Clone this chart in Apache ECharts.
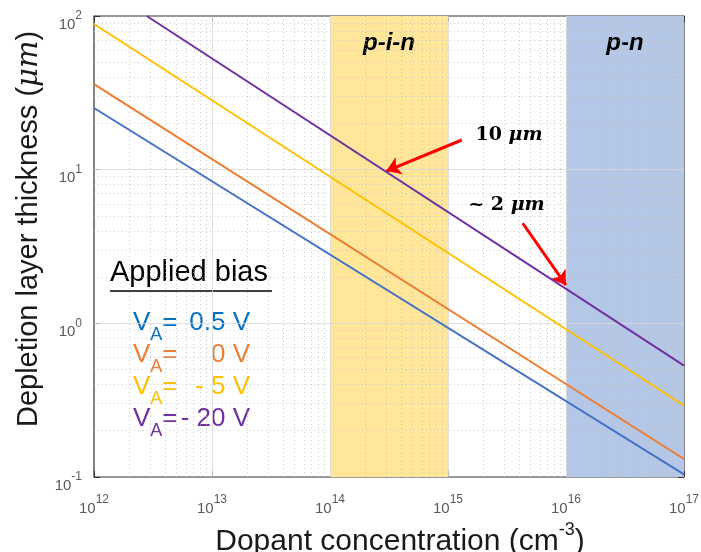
<!DOCTYPE html>
<html>
<head>
<meta charset="utf-8">
<script src="https://cdn.jsdelivr.net/npm/echarts@6/dist/echarts.min.js"></script>
<style>
  html, body { margin: 0; padding: 0; background: #fff; }
  #chart { width: 701px; height: 552px; }
</style>
</head>
<body>
<div id="chart"></div>
<script>
// dopant concentration (cm^-3) at the line ends
const concentration = [1e12, 1e17]
const concentrationPurple = [2.8e12, 1e17]

// depletion layer thickness (um) at those ends
const thicknessBlue = [25.2, 0.104]    // VA = 0.5 V
const thicknessOrange = [36, 0.131]    // VA = 0 V
const thicknessYellow = [88.7, 0.292]  // VA = -5 V
const thicknessPurple = [100, 0.53]    // VA = -20 V

const biasLabels = ['0.5 V', '0 V', '- 5 V', '- 20 V']
const lineColors = ['#4472C4', '#ED7D31', '#FFC000', '#7030A0']
const textColors = ['#0070C0', '#ED7D31', '#FFC000', '#7030A0']

// shaded regions
const pinRange = [1e14, 1e15]
const pnRange = [1e16, 1e17]
const regionLabels = ['p-i-n', 'p-n']

// tick decades
const xDecades = [12, 13, 14, 15, 16, 17]
const yDecades = [-1, 0, 1, 2]

// annotations [x, y]
const arrow10 = [[1.31e15, 15.6], [3.0e14, 9.8]]
const arrow2 = [[4.3e15, 4.48], [1e16, 1.77]]
const label10 = [3.29e15, 16.8]
const label2 = [3.13e15, 5.87]

const chart = echarts.init(document.getElementById('chart'), null, { renderer: 'canvas' })

const majorX = xDecades.map(d => Math.pow(10, d))
const majorY = yDecades.map(d => Math.pow(10, d))
const minorX = []
xDecades.slice(0, -1).forEach(d => { for (let k = 2; k <= 9; k++) minorX.push(k * Math.pow(10, d)) })
const minorY = []
yDecades.slice(0, -1).forEach(d => { for (let k = 2; k <= 9; k++) minorY.push(k * Math.pow(10, d)) })

const tickFormatter = (value) => {
  const e = Math.round(Math.log10(value))
  return '{b|10}{s|' + e + '}'
}
const tickRich = {
  b: { fontSize: 15, color: '#5a5a5a', fontFamily: 'Liberation Sans', verticalAlign: 'bottom', lineHeight: 22 },
  s: { fontSize: 12, color: '#5a5a5a', fontFamily: 'Liberation Sans', verticalAlign: 'top', lineHeight: 22 }
}

const lineSeries = (name, xs, ys, color) => ({
  name,
  type: 'line',
  data: xs.map((x, i) => [x, ys[i]]),
  showSymbol: false,
  symbol: 'none',
  lineStyle: { width: 2, color },
  itemStyle: { color },
  z: 5,
  silent: true
})

const option = {
  animation: false,
  backgroundColor: '#fff',
  grid: {
    left: 94, right: 17, top: 16, bottom: 75,
    outerBoundsMode: 'none',
    containLabel: false,
    show: true, borderColor: '#333', borderWidth: 1.2, backgroundColor: 'transparent'
  },
  xAxis: [
    {
      type: 'log', logBase: 10, min: 1e12, max: 1e17,
      name: '{t|Dopant concentration (cm}{s|-3}{t|)}',
      nameLocation: 'middle', nameGap: 39,
      nameTextStyle: {
        padding: [0, 0, 0, 22],
        rich: {
          t: { fontSize: 30, color: '#1a1a1a', fontFamily: 'Liberation Sans', verticalAlign: 'bottom', lineHeight: 36 },
          s: { fontSize: 18, color: '#1a1a1a', fontFamily: 'Liberation Sans', verticalAlign: 'top', lineHeight: 36 }
        }
      },
      axisLine: { show: false },
      axisTick: { show: true, inside: true, length: 6, lineStyle: { color: '#333' } },
      axisLabel: { formatter: tickFormatter, rich: tickRich, margin: 17 },
      splitLine: { show: false }
    },
    {
      type: 'log', logBase: 10, min: 1e12, max: 1e17, position: 'top',
      axisLine: { show: false },
      axisTick: { show: true, inside: true, length: 6, lineStyle: { color: '#333' } },
      axisLabel: { show: false },
      splitLine: { show: false }
    }
  ],
  yAxis: [
    {
      type: 'log', logBase: 10, min: 0.1, max: 100,
      name: '{t|Depletion layer thickness (}{i|μm}{t|)}',
      nameLocation: 'middle', nameGap: 50,
      nameTextStyle: {
        padding: [0, 0, 0, 35],
        rich: {
          t: { fontSize: 29, color: '#1a1a1a', fontFamily: 'Liberation Sans' },
          i: { fontSize: 29, color: '#1a1a1a', fontFamily: 'DejaVu Serif', fontStyle: 'italic' }
        }
      },
      axisLine: { show: false },
      axisTick: { show: true, inside: true, length: 6, lineStyle: { color: '#333' } },
      axisLabel: { formatter: tickFormatter, rich: tickRich, margin: 12, padding: [10, 0, 0, 0] },
      splitLine: { show: false }
    },
    {
      type: 'log', logBase: 10, min: 0.1, max: 100, position: 'right',
      axisLine: { show: false },
      axisTick: { show: true, inside: true, length: 6, lineStyle: { color: '#333' } },
      axisLabel: { show: false },
      splitLine: { show: false }
    }
  ],
  series: [
    {
      name: 'regions',
      type: 'line',
      data: [],
      silent: true,
      z: 1,
      markArea: {
        silent: true,
        label: {
          show: true, position: 'insideTop', distance: 15,
          fontFamily: 'Liberation Sans', fontWeight: 'bold', fontStyle: 'italic',
          fontSize: 24, color: '#000'
        },
        data: [
          [{ name: regionLabels[0], xAxis: pinRange[0], itemStyle: { color: '#FFE699' } }, { xAxis: pinRange[1] }],
          [{ name: regionLabels[1], xAxis: pnRange[0], itemStyle: { color: '#B4C7E7' } }, { xAxis: pnRange[1] }]
        ]
      }
    },
    {
      name: 'grid',
      type: 'line',
      data: [],
      silent: true,
      z: 2,
      markLine: {
        silent: true,
        symbol: 'none',
        label: { show: false },
        animation: false,
        data: [
          ...minorX.map(v => ({ xAxis: v, lineStyle: { color: '#b8b8b8', width: 1, type: [1, 3], opacity: 0.7 } })),
          ...minorY.map(v => ({ yAxis: v, lineStyle: { color: '#b8b8b8', width: 1, type: [1, 3], opacity: 0.7 } })),
          ...majorX.slice(1, -1).map(v => ({ xAxis: v, lineStyle: { color: '#d9d9d9', width: 1, type: 'solid', opacity: 0.8 } })),
          ...majorY.slice(1, -1).map(v => ({ yAxis: v, lineStyle: { color: '#d9d9d9', width: 1, type: 'solid', opacity: 0.8 } }))
        ]
      }
    },
    lineSeries('VA = 0.5 V', concentration, thicknessBlue, lineColors[0]),
    lineSeries('VA = 0 V', concentration, thicknessOrange, lineColors[1]),
    lineSeries('VA = -5 V', concentration, thicknessYellow, lineColors[2]),
    lineSeries('VA = -20 V', concentrationPurple, thicknessPurple, lineColors[3]),
    {
      name: 'notes',
      type: 'line',
      data: [],
      silent: true,
      z: 8,
      markLine: {
        silent: true,
        symbol: ['none', 'arrow'],
        symbolSize: [14, 14],
        label: { show: false },
        lineStyle: { color: '#FF0000', width: 3, type: 'solid' },
        data: [
          [{ coord: arrow10[0] }, { coord: arrow10[1] }],
          [{ coord: arrow2[0] }, { coord: arrow2[1] }]
        ]
      },
      markPoint: {
        silent: true,
        symbol: 'circle',
        symbolSize: 0,
        label: {
          show: true, position: 'inside',
          rich: {
            n: { fontSize: 19, fontWeight: 'bold', fontFamily: 'DejaVu Serif', color: '#000' },
            i: { fontSize: 19, fontWeight: 'bold', fontStyle: 'italic', fontFamily: 'DejaVu Serif', color: '#000' }
          }
        },
        data: [
          { coord: label10, label: { formatter: '{n|10 }{i|μm}' } },
          { coord: label2, label: { formatter: '{n|~ 2 }{i|μm}' } }
        ]
      }
    }
  ],
  graphic: [
    {
      type: 'text', left: 110, top: 258,
      style: { text: 'Applied bias', font: '29px "Liberation Sans"', fill: '#000' }
    },
    {
      type: 'line', shape: { x1: 110, y1: 291, x2: 272, y2: 291 },
      style: { stroke: '#000', lineWidth: 1.5 }
    },
    ...biasLabels.flatMap((b, i) => [
      {
        type: 'text', left: 133, top: 310 + i * 32,
        style: {
          text: '{v|V}{s|A}{v|=}',
          rich: {
            v: { fontSize: 26, fontFamily: 'Liberation Sans', fill: textColors[i], verticalAlign: 'top', lineHeight: 34 },
            s: { fontSize: 18, fontFamily: 'Liberation Sans', fill: textColors[i], verticalAlign: 'bottom', lineHeight: 34 }
          }
        }
      },
      {
        type: 'text', right: 701 - 250, top: 310 + i * 32,
        style: { text: b, font: '26px "Liberation Sans"', fill: textColors[i] }
      }
    ])
  ]
}

chart.setOption(option)
</script>
</body>
</html>
